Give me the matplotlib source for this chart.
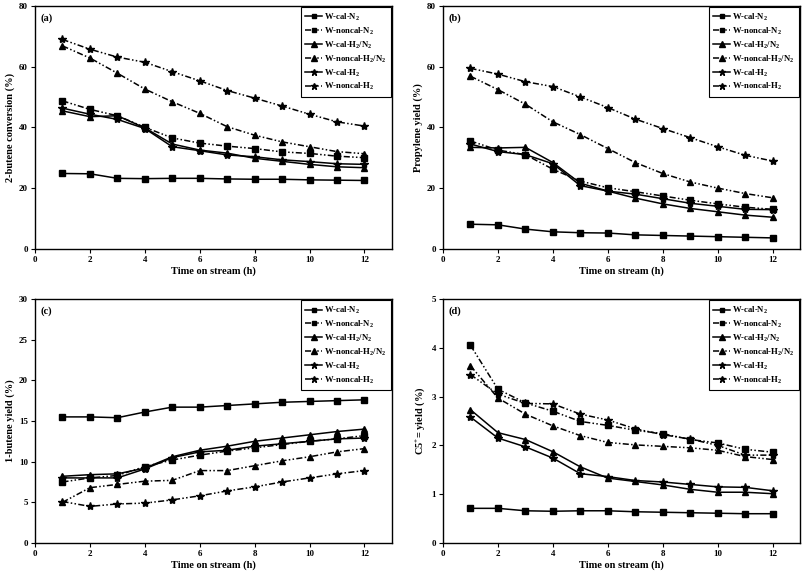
import matplotlib
matplotlib.use("Agg")
import matplotlib.pyplot as plt

plt.rcParams['font.family'] = ['Liberation Serif', 'DejaVu Serif']
plt.rcParams['font.weight'] = 'bold'
plt.rcParams['mathtext.fontset'] = 'custom'
plt.rcParams['mathtext.rm'] = 'Liberation Serif:bold'
plt.rcParams['mathtext.bf'] = 'Liberation Serif:bold'

hours = [1, 2, 3, 4, 5, 6, 7, 8, 9, 10, 11, 12]
series_names = ["W-cal-N$_2$", "W-noncal-N$_2$", "W-cal-H$_2$/N$_2$",
                "W-noncal-H$_2$/N$_2$", "W-cal-H$_2$", "W-noncal-H$_2$"]

# (a) 2-butene conversion
conv_cal_N2 = [24.8, 24.7, 23.2, 23.1, 23.2, 23.2, 23.0, 22.9, 22.9, 22.7, 22.6, 22.5]
conv_noncal_N2 = [48.7, 45.9, 43.8, 40.0, 36.5, 34.8, 33.8, 33.0, 31.9, 31.4, 30.5, 30.0]
conv_cal_H2N2 = [45.4, 43.5, 43.8, 39.8, 34.5, 32.5, 31.5, 29.8, 28.8, 27.8, 27.0, 26.7]
conv_noncal_H2N2 = [66.8, 62.8, 57.8, 52.6, 48.4, 44.6, 40.2, 37.4, 35.2, 33.6, 32.0, 31.3]
conv_cal_H2 = [46.3, 44.3, 42.6, 39.6, 33.6, 32.3, 30.9, 30.3, 29.3, 28.7, 28.0, 27.8]
conv_noncal_H2 = [68.9, 65.7, 63.1, 61.4, 58.3, 55.3, 52.1, 49.6, 47.0, 44.3, 41.8, 40.4]

# (b) propylene yield
prop_cal_N2 = [8.1, 7.9, 6.5, 5.6, 5.3, 5.2, 4.6, 4.4, 4.2, 4.0, 3.8, 3.6]
prop_noncal_N2 = [35.5, 32.5, 31.0, 26.2, 22.3, 20.1, 18.8, 17.4, 16.0, 14.8, 13.7, 13.0]
prop_cal_H2N2 = [33.4, 33.2, 33.4, 28.4, 21.6, 19.0, 16.7, 14.8, 13.3, 12.2, 11.1, 10.4]
prop_noncal_H2N2 = [56.8, 52.4, 47.6, 41.8, 37.6, 33.0, 28.4, 24.8, 22.0, 20.0, 18.2, 16.8]
prop_cal_H2 = [34.5, 32.0, 31.0, 28.0, 20.8, 19.0, 18.0, 16.5, 15.0, 14.0, 13.0, 12.9]
prop_noncal_H2 = [59.4, 57.5, 55.0, 53.4, 50.0, 46.5, 42.7, 39.6, 36.6, 33.6, 30.8, 28.9]

# (c) 1-butene yield
but_cal_N2 = [15.5, 15.5, 15.4, 16.1, 16.7, 16.7, 16.9, 17.1, 17.3, 17.4, 17.5, 17.6]
but_noncal_N2 = [7.5, 8.0, 8.3, 9.4, 10.2, 10.8, 11.3, 11.7, 12.1, 12.5, 12.8, 13.2]
but_cal_H2N2 = [8.2, 8.4, 8.5, 9.2, 10.6, 11.4, 11.9, 12.5, 12.9, 13.3, 13.7, 14.0]
but_noncal_H2N2 = [5.0, 6.8, 7.2, 7.6, 7.7, 8.9, 8.9, 9.5, 10.1, 10.6, 11.2, 11.6]
but_cal_H2 = [8.0, 8.0, 8.0, 9.1, 10.5, 11.2, 11.4, 11.9, 12.2, 12.5, 12.8, 12.9]
but_noncal_H2 = [5.1, 4.5, 4.8, 4.9, 5.3, 5.8, 6.4, 6.9, 7.5, 8.0, 8.5, 8.9]

# (d) C5+ yield
c5_cal_N2 = [0.71, 0.71, 0.66, 0.65, 0.66, 0.66, 0.64, 0.63, 0.62, 0.61, 0.60, 0.60]
c5_noncal_N2 = [4.05, 3.15, 2.87, 2.70, 2.49, 2.41, 2.31, 2.24, 2.12, 2.05, 1.92, 1.86]
c5_cal_H2N2 = [2.73, 2.26, 2.12, 1.87, 1.56, 1.33, 1.26, 1.19, 1.10, 1.04, 1.04, 1.01]
c5_noncal_H2N2 = [3.63, 2.97, 2.64, 2.40, 2.20, 2.06, 2.01, 1.98, 1.95, 1.90, 1.77, 1.71]
c5_cal_H2 = [2.58, 2.15, 1.97, 1.74, 1.42, 1.36, 1.28, 1.25, 1.20, 1.15, 1.14, 1.07]
c5_noncal_H2 = [3.45, 3.05, 2.86, 2.85, 2.64, 2.52, 2.34, 2.22, 2.13, 2.00, 1.80, 1.80]

markers = ['s', 's', '^', '^', '*', '*']
solid = [True, False, True, False, True, False]
msizes = [4, 4, 5, 5, 6, 6]
dashdotdot = (0, (4, 1.5, 1, 1.5, 1, 1.5))

panels = [
    dict(rect=[0.0436, 0.568, 0.4444, 0.422], data=[conv_cal_N2, conv_noncal_N2, conv_cal_H2N2, conv_noncal_H2N2, conv_cal_H2, conv_noncal_H2],
         ylim=(0, 80), yticks=[0, 20, 40, 60, 80], ylabel="2-butene conversion (%)", tag="(a)"),
    dict(rect=[0.5517, 0.568, 0.4446, 0.422], data=[prop_cal_N2, prop_noncal_N2, prop_cal_H2N2, prop_noncal_H2N2, prop_cal_H2, prop_noncal_H2],
         ylim=(0, 80), yticks=[0, 20, 40, 60, 80], ylabel="Propylene yield (%)", tag="(b)"),
    dict(rect=[0.0436, 0.0573, 0.4444, 0.4237], data=[but_cal_N2, but_noncal_N2, but_cal_H2N2, but_noncal_H2N2, but_cal_H2, but_noncal_H2],
         ylim=(0, 30), yticks=[0, 5, 10, 15, 20, 25, 30], ylabel="1-butene yield (%)", tag="(c)"),
    dict(rect=[0.5517, 0.0573, 0.4446, 0.4237], data=[c5_cal_N2, c5_noncal_N2, c5_cal_H2N2, c5_noncal_H2N2, c5_cal_H2, c5_noncal_H2],
         ylim=(0, 5), yticks=[0, 1, 2, 3, 4, 5], ylabel="C5$^{+}$= yield (%)", tag="(d)"),
]

fig = plt.figure(figsize=(8.03, 5.76), dpi=100)
for p in panels:
    ax = fig.add_axes(p['rect'])
    handles = []
    for i, ys in enumerate(p['data']):
        ls = '-' if solid[i] else dashdotdot
        h, = ax.plot(hours, ys, color='black', linestyle=ls, linewidth=1.1,
                     marker=markers[i], markersize=msizes[i], markerfacecolor='black',
                     markeredgecolor='black', label=series_names[i])
        handles.append(h)
    ax.set_xlim(0, 13)
    ax.set_ylim(*p['ylim'])
    ax.set_xticks([0, 2, 4, 6, 8, 10, 12])
    ax.set_yticks(p['yticks'])
    ax.tick_params(direction='out', length=3, width=0.8, labelsize=6.5, pad=2)
    for lab in ax.get_xticklabels() + ax.get_yticklabels():
        lab.set_fontweight('bold')
    ax.set_xlabel("Time on stream (h)", fontsize=7.5, fontweight='bold', labelpad=2)
    ax.set_ylabel(p['ylabel'], fontsize=7.5, fontweight='bold', labelpad=3)
    for s in ax.spines.values():
        s.set_linewidth(1.0)
    ax.text(0.015, 0.97, p['tag'], transform=ax.transAxes, fontsize=7.5,
            fontweight='bold', va='top', ha='left')
    leg = ax.legend(handles=handles, loc='upper right', fontsize=6.2, frameon=True,
                    fancybox=False, edgecolor='black', framealpha=1,
                    handlelength=2.0, handletextpad=0.2, labelspacing=0.28,
                    borderaxespad=0.15, borderpad=0.5, markerscale=0.8)
    leg.get_frame().set_linewidth(0.8)

fig.savefig("out.png", dpi=100)
